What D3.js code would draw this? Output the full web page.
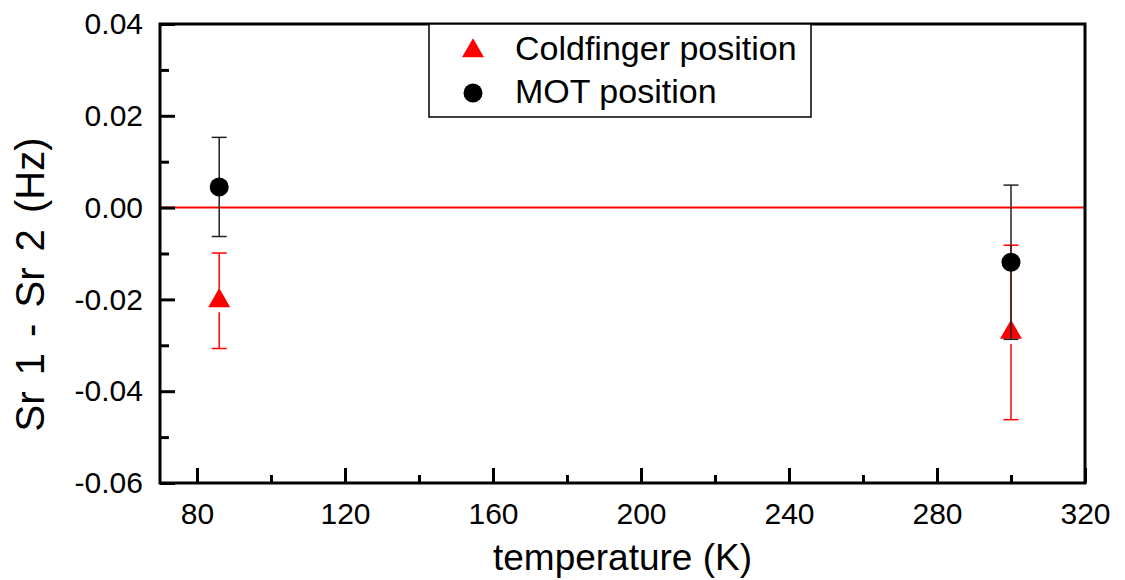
<!DOCTYPE html>
<html>
<head>
<meta charset="utf-8">
<script src="https://cdn.jsdelivr.net/npm/d3@7"></script>
<style>
  html, body { margin: 0; padding: 0; background: #fff; }
  svg { display: block; font-family: "Liberation Sans", Arial, sans-serif; }
</style>
</head>
<body>
<svg id="chart" width="1125" height="580"></svg>
<script>
// Temperatures (K) at which the frequency difference was measured
const temperatures = [86, 300];
// Coldfinger position: value and uncertainty (Hz)
const coldfingerValues = [-0.0203, -0.0272];
const coldfingerErrors = [0.0104, 0.0190];
// MOT position: value and uncertainty (Hz)
const motValues = [0.0045, -0.0119];
const motErrors = [0.0108, 0.0168];

const xMajorTicks = [80, 120, 160, 200, 240, 280, 320];
const xMinorTicks = [100, 140, 180, 220, 260, 300];
const yMajorTicks = [-0.06, -0.04, -0.02, 0.00, 0.02, 0.04];
const yMinorTicks = [-0.05, -0.03, -0.01, 0.01, 0.03];
const seriesNames = ["Coldfinger position", "MOT position"];

const svg = d3.select("#chart");
const plotLeft = 160, plotRight = 1085, plotTop = 24, plotBottom = 483;

const x = d3.scaleLinear().domain([70, 320]).range([plotLeft, plotRight]);
const y = d3.scaleLinear().domain([-0.06, 0.04]).range([plotBottom, plotTop]);

const RED = "#ff0000";

// zero reference line
svg.append("line")
  .attr("x1", plotLeft).attr("x2", plotRight)
  .attr("y1", y(0)).attr("y2", y(0))
  .attr("stroke", RED).attr("stroke-width", 2);

// axes with inward ticks
function styleAxis(g) {
  g.select(".domain").remove();
  g.selectAll(".tick line").attr("stroke", "#000").attr("stroke-width", 3);
  g.selectAll(".tick text")
    .attr("fill", "#000")
    .style("font-size", "30px")
    .style("font-family", "'Liberation Sans', Arial, sans-serif");
}

svg.append("g")
  .attr("transform", `translate(0,${plotBottom})`)
  .call(d3.axisBottom(x).tickValues(xMajorTicks).tickSize(-15).tickPadding(20)
        .tickFormat(d => String(d)))
  .call(styleAxis);
svg.append("g")
  .attr("transform", `translate(0,${plotBottom})`)
  .call(d3.axisBottom(x).tickValues(xMinorTicks).tickSize(-8).tickFormat(""))
  .call(styleAxis);

svg.append("g")
  .attr("transform", `translate(${plotLeft},0)`)
  .call(d3.axisLeft(y).tickValues(yMajorTicks).tickSize(-15).tickPadding(17)
        .tickFormat(d => d.toFixed(2)))
  .call(styleAxis);
svg.append("g")
  .attr("transform", `translate(${plotLeft},0)`)
  .call(d3.axisLeft(y).tickValues(yMinorTicks).tickSize(-9).tickFormat(""))
  .call(styleAxis);

// frame
svg.append("rect")
  .attr("x", plotLeft).attr("y", plotTop)
  .attr("width", plotRight - plotLeft).attr("height", plotBottom - plotTop)
  .attr("fill", "none").attr("stroke", "#000").attr("stroke-width", 3);

// data
const cold = temperatures.map((t, i) => ({ t, v: coldfingerValues[i], e: coldfingerErrors[i] }));
const mot = temperatures.map((t, i) => ({ t, v: motValues[i], e: motErrors[i] }));

const capHalf = 7.5;
const triGap = 11.5;

// coldfinger error bars (split around the triangle)
const coldErr = svg.append("g").attr("stroke", RED).attr("stroke-width", 1.5).attr("fill", "none");
cold.forEach(d => {
  const cx = x(d.t), cy = y(d.v), yt = y(d.v + d.e), yb = y(d.v - d.e);
  coldErr.append("line").attr("x1", cx).attr("x2", cx).attr("y1", yt).attr("y2", cy - triGap);
  coldErr.append("line").attr("x1", cx).attr("x2", cx).attr("y1", cy + triGap).attr("y2", yb);
  coldErr.append("line").attr("x1", cx - capHalf).attr("x2", cx + capHalf).attr("y1", yt).attr("y2", yt);
  coldErr.append("line").attr("x1", cx - capHalf).attr("x2", cx + capHalf).attr("y1", yb).attr("y2", yb);
});

const triangle = d3.symbol().type(d3.symbolTriangle).size(210);
svg.append("g").selectAll("path").data(cold).join("path")
  .attr("d", triangle)
  .attr("transform", d => `translate(${x(d.t)},${y(d.v)})`)
  .attr("fill", RED);

// MOT error bars
const motErr = svg.append("g").attr("stroke", "#222").attr("stroke-width", 1.5).attr("fill", "none");
mot.forEach(d => {
  const cx = x(d.t), yt = y(d.v + d.e), yb = y(d.v - d.e);
  motErr.append("line").attr("x1", cx).attr("x2", cx).attr("y1", yt).attr("y2", yb);
  motErr.append("line").attr("x1", cx - capHalf).attr("x2", cx + capHalf).attr("y1", yt).attr("y2", yt);
  motErr.append("line").attr("x1", cx - capHalf).attr("x2", cx + capHalf).attr("y1", yb).attr("y2", yb);
});

svg.append("g").selectAll("circle").data(mot).join("circle")
  .attr("cx", d => x(d.t)).attr("cy", d => y(d.v)).attr("r", 9.5)
  .attr("fill", "#000");

// legend
const legend = svg.append("g");
legend.append("rect")
  .attr("x", 429).attr("y", plotTop).attr("width", 382).attr("height", 93)
  .attr("fill", "#fff").attr("stroke", "#000").attr("stroke-width", 1.5);
legend.append("path")
  .attr("d", triangle)
  .attr("transform", "translate(473,51)")
  .attr("fill", RED);
legend.append("circle").attr("cx", 473).attr("cy", 93).attr("r", 9.5).attr("fill", "#000");
legend.selectAll("text").data(seriesNames).join("text")
  .attr("x", 515).attr("y", (d, i) => i === 0 ? 60 : 103)
  .style("font-size", "34px")
  .attr("fill", "#000")
  .text(d => d);

// axis titles
svg.append("text")
  .attr("x", (plotLeft + plotRight) / 2).attr("y", 570)
  .attr("text-anchor", "middle")
  .style("font-size", "37px")
  .text("temperature (K)");

svg.append("text")
  .attr("transform", `translate(44,${(plotTop + plotBottom) / 2 + 31}) rotate(-90)`)
  .attr("text-anchor", "middle")
  .style("font-size", "40px")
  .style("word-spacing", "5px")
  .text("Sr 1 - Sr 2 (Hz)");
</script>
</body>
</html>
